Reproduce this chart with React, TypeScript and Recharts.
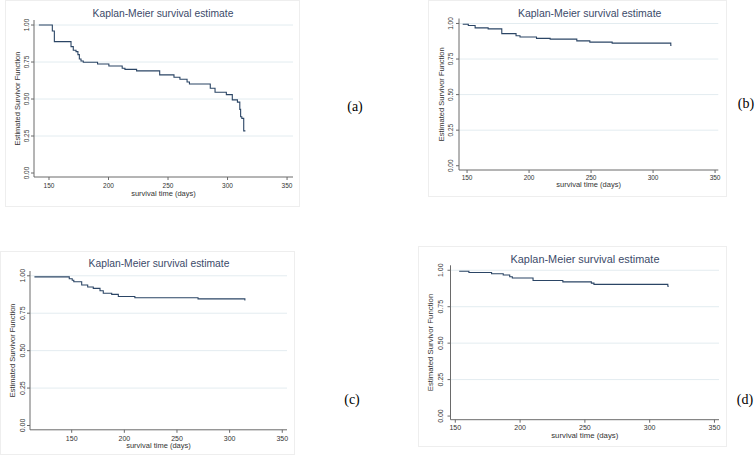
import React from 'react'
import { LineChart, Line, XAxis, YAxis, ReferenceLine, Label } from 'recharts'

// survival curves
const aTime = [141.5, 152.8, 154.5, 168.5, 170.4, 172.7, 174.3, 175.5, 176.9, 178.8, 190.8, 200.3, 211.5, 213.8, 223.6, 243, 255, 260, 266, 268, 285.5, 289.5, 299, 304, 308.3, 310.3, 311, 312, 313.6, 315]
const aSurv = [1.0, 0.96, 0.888, 0.854, 0.83, 0.82, 0.8, 0.77, 0.757, 0.748, 0.737, 0.723, 0.708, 0.7, 0.69, 0.663, 0.647, 0.634, 0.615, 0.602, 0.573, 0.546, 0.53, 0.494, 0.479, 0.43, 0.38, 0.369, 0.285, 0.285]

const bTime = [146.5, 151, 156.5, 167, 178, 189.5, 192.7, 206, 217, 238.5, 249, 267, 314.3, 314.8]
const bSurv = [0.995, 0.986, 0.969, 0.962, 0.929, 0.914, 0.905, 0.895, 0.89, 0.878, 0.869, 0.862, 0.845, 0.845]

const cTime = [114.6, 147.7, 150.5, 152, 159.5, 165.2, 170.5, 176.9, 180, 188, 194.3, 210, 270, 314.5, 315]
const cSurv = [0.993, 0.98, 0.97, 0.96, 0.938, 0.925, 0.916, 0.9, 0.883, 0.876, 0.862, 0.853, 0.846, 0.838, 0.838]

const dTime = [153, 160.5, 178, 187, 192, 194, 210, 233, 255, 257, 314, 314.8]
const dSurv = [0.993, 0.985, 0.976, 0.967, 0.955, 0.947, 0.93, 0.92, 0.912, 0.903, 0.89, 0.89]

const xTicks = [150, 200, 250, 300, 350]
const yTicks = [0, 0.25, 0.5, 0.75, 1]
const gridValues = [0.25, 0.5, 0.75, 1]

const chartTitle = 'Kaplan-Meier survival estimate'
const xTitle = 'survival time (days)'
const yTitle = 'Estimated Survivor Function'
const panelLabels = ['(a)', '(b)', '(c)', '(d)']

const FONT = '"Liberation Sans", Arial, sans-serif'
const LINE_COLOR = '#2b4565'
const AXIS_COLOR = '#6a6a6a'
const GRID_COLOR = '#e3ecf0'
const TEXT_COLOR = '#333'

interface PanelCfg {
  frame: { left: number; top: number; width: number; height: number }
  plot: { left: number; right: number; top: number; bottom: number }
  xDomain: [number, number]
  yDomain: [number, number]
  title: { x: number; y: number; fs: number }
  yTickX: number
  yTitleX: number
  xTickY: number
  xTitleY: number
  tickFs: number
  axisFs: number
  label: { x: number; y: number }
}

const panels: PanelCfg[] = [
  {
    frame: { left: 5, top: 0, width: 295, height: 207 },
    plot: { left: 34, right: 293, top: 20, bottom: 177 },
    xDomain: [137.4, 355],
    yDomain: [-0.027, 1.034],
    title: { x: 163, y: 14, fs: 10.3 },
    yTickX: 26.7,
    yTitleX: 18,
    xTickY: 185.5,
    xTitleY: 193.5,
    tickFs: 6.5,
    axisFs: 7.5,
    label: { x: 355, y: 107 },
  },
  {
    frame: { left: 428, top: 0, width: 299, height: 197 },
    plot: { left: 459, right: 718.3, top: 18.5, bottom: 170 },
    xDomain: [143.5, 352.6],
    yDomain: [-0.03, 1.035],
    title: { x: 589.7, y: 13.3, fs: 10.5 },
    yTickX: 450.3,
    yTitleX: 441.3,
    xTickY: 177.7,
    xTitleY: 185,
    tickFs: 6.5,
    axisFs: 7.5,
    label: { x: 746, y: 104 },
  },
  {
    frame: { left: 0, top: 251, width: 295, height: 204 },
    plot: { left: 30, right: 287, top: 271, bottom: 429.8 },
    xDomain: [110.4, 354.5],
    yDomain: [-0.0287, 1.032],
    title: { x: 159, y: 264.3, fs: 10.3 },
    yTickX: 22,
    yTitleX: 12.5,
    xTickY: 438.5,
    xTitleY: 446,
    tickFs: 7,
    axisFs: 7.5,
    label: { x: 352, y: 400 },
  },
  {
    frame: { left: 418, top: 246, width: 309, height: 201 },
    plot: { left: 450.5, right: 719, top: 265.3, bottom: 419.7 },
    xDomain: [146.3, 353.5],
    yDomain: [-0.025, 1.034],
    title: { x: 585, y: 259.7, fs: 10.9 },
    yTickX: 440,
    yTitleX: 430.5,
    xTickY: 427,
    xTitleY: 435.3,
    tickFs: 7,
    axisFs: 7.8,
    label: { x: 745, y: 400 },
  },
]

const series = [
  { time: aTime, surv: aSurv },
  { time: bTime, surv: bSurv },
  { time: cTime, surv: cSurv },
  { time: dTime, surv: dSurv },
]

const YW = 20
const XH = 20

function KMPanel({ cfg, time, surv, tag }: { cfg: PanelCfg; time: number[]; surv: number[]; tag: string }) {
  const data = time.map((t, i) => ({ t, s: surv[i] }))
  const { frame, plot } = cfg
  const margin = {
    left: plot.left - frame.left - YW,
    top: plot.top - frame.top,
    right: frame.left + frame.width - plot.right,
    bottom: frame.top + frame.height - plot.bottom - XH,
  }
  // local (chart) coordinates for the hand placed text
  const yTickX = cfg.yTickX - frame.left
  const yTitleX = cfg.yTitleX - frame.left
  const xTickY = cfg.xTickY - frame.top
  const xTitleY = cfg.xTitleY - frame.top
  const plotMidY = (plot.top + plot.bottom) / 2 - frame.top
  const plotMidX = (plot.left + plot.right) / 2 - frame.left

  const renderYTick = (props: any) => {
    const { y, payload } = props
    return (
      <text
        transform={`translate(${yTickX + cfg.tickFs * 0.36},${y}) rotate(-90)`}
        textAnchor="middle"
        fontSize={cfg.tickFs}
        fontFamily={FONT}
        fill={TEXT_COLOR}
      >
        {Number(payload.value).toFixed(2)}
      </text>
    )
  }

  const renderXTick = (props: any) => {
    const { x, payload } = props
    return (
      <text x={x} y={xTickY + cfg.tickFs * 0.36} textAnchor="middle" fontSize={cfg.tickFs} fontFamily={FONT} fill={TEXT_COLOR}>
        {payload.value}
      </text>
    )
  }

  return (
    <>
      <div
        style={{
          position: 'absolute',
          left: frame.left,
          top: frame.top,
          width: frame.width,
          height: frame.height,
          boxSizing: 'border-box',
          border: '1px solid #eeeeee',
        }}
      />
      <div
        style={{
          position: 'absolute',
          left: cfg.title.x - 110,
          width: 220,
          top: cfg.title.y - cfg.title.fs * 0.52,
          textAlign: 'center',
          fontFamily: FONT,
          fontSize: cfg.title.fs,
          lineHeight: 1,
          color: '#3b4a69',
          whiteSpace: 'nowrap',
        }}
      >
        {chartTitle}
      </div>
      <div style={{ position: 'absolute', left: frame.left, top: frame.top }}>
        <LineChart width={frame.width} height={frame.height} data={data} margin={margin}>
          {gridValues.map((v) => (
            <ReferenceLine key={v} y={v} stroke={GRID_COLOR} strokeWidth={1} />
          ))}
          <XAxis
            dataKey="t"
            type="number"
            domain={cfg.xDomain}
            ticks={xTicks}
            allowDataOverflow
            height={XH}
            stroke={AXIS_COLOR}
            tickSize={3}
            tick={renderXTick}
            interval={0}
          >
            <Label
              content={() => (
                <text x={plotMidX} y={xTitleY + cfg.axisFs * 0.3} textAnchor="middle" fontSize={cfg.axisFs} fontFamily={FONT} fill={TEXT_COLOR}>
                  {xTitle}
                </text>
              )}
            />
          </XAxis>
          <YAxis
            type="number"
            domain={cfg.yDomain}
            ticks={yTicks}
            allowDataOverflow
            width={YW}
            stroke={AXIS_COLOR}
            tickSize={3}
            tick={renderYTick}
            interval={0}
          >
            <Label
              content={() => (
                <text
                  transform={`translate(${yTitleX + cfg.axisFs * 0.33},${plotMidY}) rotate(-90)`}
                  textAnchor="middle"
                  fontSize={cfg.axisFs}
                  fontFamily={FONT}
                  fill={TEXT_COLOR}
                >
                  {yTitle}
                </text>
              )}
            />
          </YAxis>
          <Line
            type="stepAfter"
            dataKey="s"
            stroke={LINE_COLOR}
            strokeWidth={1.1}
            dot={false}
            activeDot={false}
            isAnimationActive={false}
          />
        </LineChart>
      </div>
      <div
        style={{
          position: 'absolute',
          left: cfg.label.x - 20,
          width: 40,
          top: cfg.label.y - 8,
          textAlign: 'center',
          fontFamily: '"Liberation Serif", "Times New Roman", serif',
          fontSize: 14,
          lineHeight: '16px',
          color: '#000',
        }}
      >
        {tag}
      </div>
    </>
  )
}

export default function App() {
  return (
    <div
      style={{
        position: 'absolute',
        left: 0,
        top: 0,
        width: 756,
        height: 455,
        background: '#fff',
        overflow: 'hidden',
      }}
    >
      {panels.map((cfg, i) => (
        <KMPanel key={i} cfg={cfg} time={series[i].time} surv={series[i].surv} tag={panelLabels[i]} />
      ))}
    </div>
  )
}
